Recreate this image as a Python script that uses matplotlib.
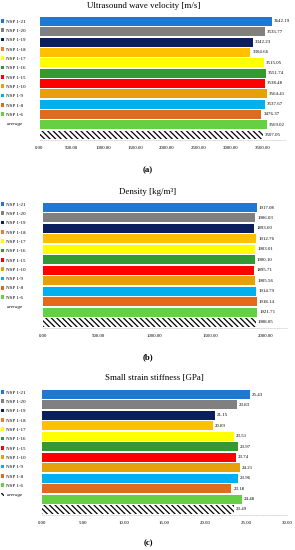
import matplotlib
matplotlib.use('Agg')
import matplotlib.pyplot as plt
from matplotlib.patches import Patch

plt.rcParams['font.family'] = ['Liberation Serif', 'DejaVu Serif']
plt.rcParams['hatch.linewidth'] = 0.9

# data
labels = ['NSP 1-21', 'NSP 1-20', 'NSP 1-19', 'NSP 1-18', 'NSP 1-17', 'NSP 1-16',
          'NSP 1-15', 'NSP 1-10', 'NSP 1-9', 'NSP 1-8', 'NSP 1-6', 'average']
velocity = [3642.19, 3535.77, 3342.23, 3304.66, 3515.05, 3551.74,
            3538.48, 3564.41, 3537.67, 3476.37, 3569.02, 3507.05]
density = [1917.08, 1906.03, 1893.60, 1912.76, 1903.01, 1900.10,
           1895.71, 1905.56, 1914.79, 1918.14, 1921.71, 1908.05]
stiffness = [25.43, 23.83, 21.15, 20.89, 23.51, 23.97,
             23.74, 24.21, 23.96, 23.18, 24.48, 23.49]

bar_colors = ['#1F78D1', '#808080', '#0B1F5E', '#FFC000', '#FFFF00', '#339933',
              '#FF0000', '#E5A00A', '#00B0F0', '#E06A1E', '#66D044', 'white']
# legend swatches (NSP 1-18 swatch is orange in the original)
legend_colors = ['#1F78D1', '#808080', '#0B1F5E', '#ED7D31', '#FFFF00', '#339933',
                 '#FF0000', '#E5A00A', '#00B0F0', '#E06A1E', '#66D044', 'white']

W, H = 295, 550
fig = plt.figure(figsize=(W / 100, H / 100), dpi=100)


def px_axes(left, right, top, bottom):
    return fig.add_axes([left / W, 1 - bottom / H, (right - left) / W, (bottom - top) / H])


def panel(values, box, xmax, ticks, title, title_xy, tag, tag_y, leg_y):
    ax = px_axes(*box)
    y = list(range(len(values)))
    bars = ax.barh(y, values, height=0.86, color=bar_colors, linewidth=0, zorder=3)
    bars[-1].set_hatch('\\' * 6)
    bars[-1].set_edgecolor('black')
    ax.bar_label(bars, labels=[f'{v:.2f}' for v in values], padding=1.5, fontsize=3.5)
    ax.set_ylim(len(values) - 0.5, -0.5)
    ax.set_xlim(0, xmax)
    ax.set_xticks(ticks)
    ax.set_xticklabels([f'{t:.2f}' for t in ticks])
    ax.set_yticks([])
    ax.tick_params(axis='x', length=0, labelsize=3.5, pad=4.2)
    for s in ['top', 'right', 'left']:
        ax.spines[s].set_visible(False)
    ax.spines['bottom'].set_color('#c8c8c8')
    ax.spines['bottom'].set_linestyle(':')
    ax.spines['bottom'].set_linewidth(0.5)
    fig.text(title_xy[0] / W, 1 - title_xy[1] / H, title, fontsize=6.4,
             ha='center', va='center')
    fig.text(148 / W, 1 - tag_y / H, tag, fontsize=6.3, fontweight='bold',
             ha='center', va='center')
    handles = []
    for i, c in enumerate(legend_colors):
        if i == len(legend_colors) - 1:
            handles.append(Patch(facecolor='white', edgecolor='black', hatch='\\' * 4, linewidth=0))
        else:
            handles.append(Patch(facecolor=c, linewidth=0))
    leg = fig.legend(handles, labels, loc='upper left',
                     bbox_to_anchor=(0.5 / W, 1 - leg_y / H), frameon=False,
                     fontsize=3.6, handlelength=0.75, handleheight=0.75,
                     handletextpad=0.45, labelspacing=0.95, borderpad=0,
                     borderaxespad=0)
    leg.get_texts()[-1].set_fontstyle('italic')
    return ax


panel(velocity, (39.5, 285, 16.3, 140.2), 3850, [0, 500, 1000, 1500, 2000, 2500, 3000, 3500],
      'Ultrasound wave velocity [m/s]', (144, 6.5), '(a)', 170, 19)
panel(density, (43, 287, 202.3, 327.7), 2190, [0, 500, 1000, 1500, 2000],
      'Density [kg/m³]', (148, 191.7), '(b)', 357, 202)
panel(stiffness, (42, 287, 389.3, 514.7), 30, [0, 5, 10, 15, 20, 25, 30],
      'Small strain stiffness [GPa]', (154, 378), '(c)', 543, 390)

fig.savefig('out.png', dpi=100)
